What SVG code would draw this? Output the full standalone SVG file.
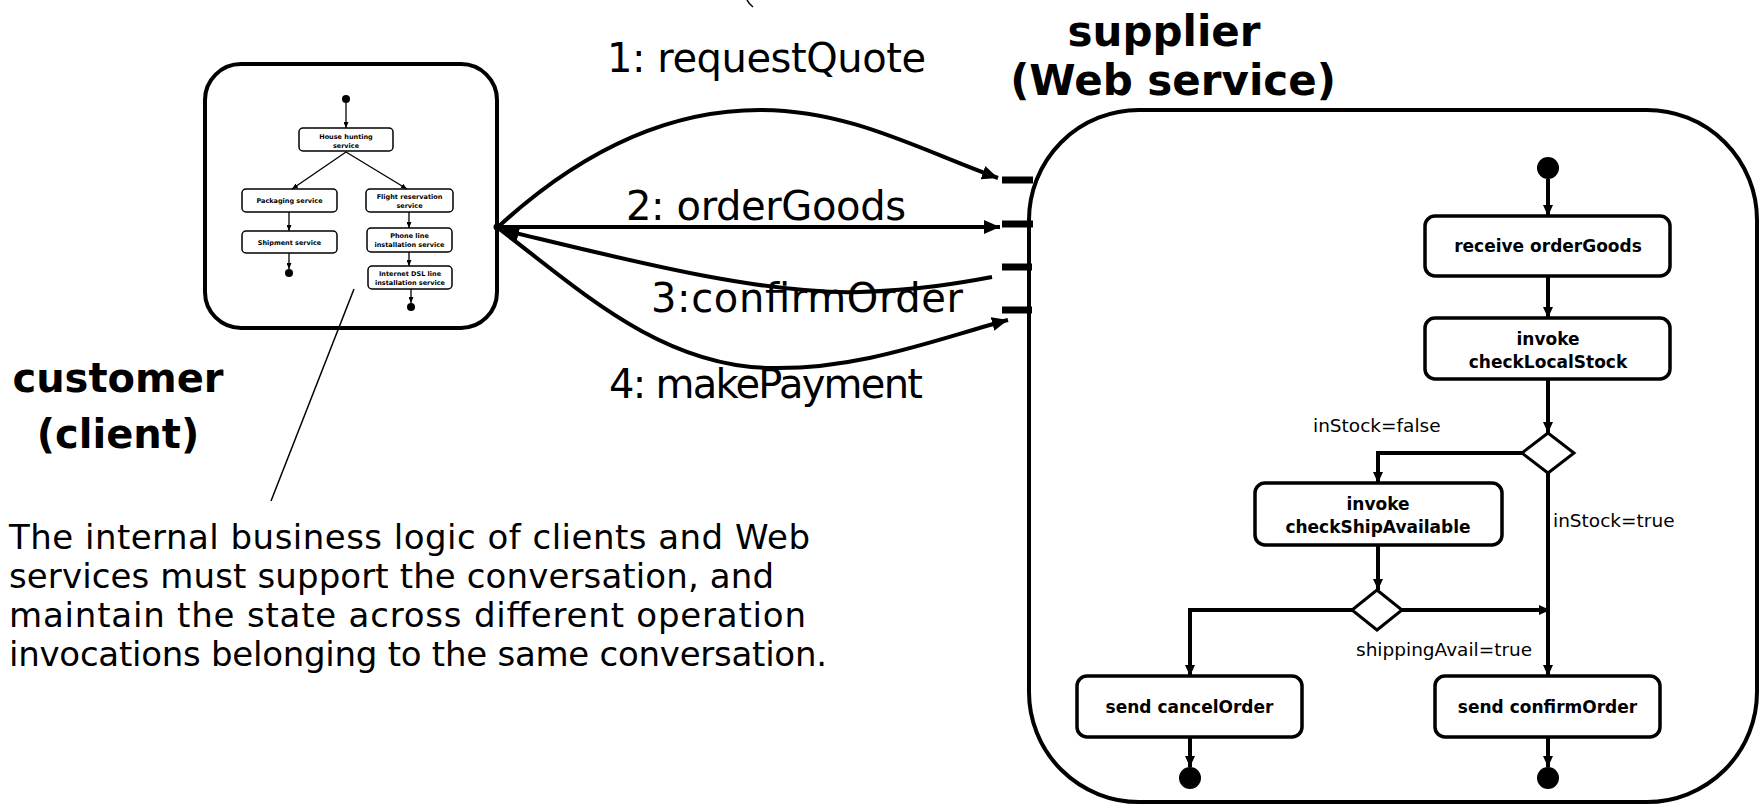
<svg xmlns="http://www.w3.org/2000/svg" width="1759" height="804" viewBox="0 0 1759 804">
<style>
.t{font-family:"DejaVu Sans","Liberation Sans",sans-serif;fill:#000}
.b{font-weight:bold}
.big{font-size:40px}
.title{font-size:42px;font-weight:bold}
.lab{font-size:18.5px}
.act{font-size:17px;font-weight:bold}
.mini{font-size:6.5px;font-weight:bold}
.para{font-size:34px}
.box{fill:#fff;stroke:#000;stroke-width:3.5}
.mbox{fill:#fff;stroke:#000;stroke-width:1.5}
.fl{fill:none;stroke:#000;stroke-width:4}
.mfl{fill:none;stroke:#000;stroke-width:1.3}
.conn{fill:none;stroke:#000;stroke-width:4}
.tick{stroke:#000;stroke-width:7}
</style>
<defs>
<marker id="ah" viewBox="0 0 16 14" refX="16" refY="7" markerWidth="16" markerHeight="14" markerUnits="userSpaceOnUse" orient="auto-start-reverse"><path d="M0,0 L16,7 L0,14 z" fill="#000"/></marker>
<marker id="sa" viewBox="0 0 11 10" refX="11" refY="5" markerWidth="11" markerHeight="10" markerUnits="userSpaceOnUse" orient="auto"><path d="M0,0 L11,5 L0,10 z" fill="#000"/></marker>
<marker id="ma" viewBox="0 0 6 5" refX="6" refY="2.5" markerWidth="6" markerHeight="5" markerUnits="userSpaceOnUse" orient="auto"><path d="M0,0 L6,2.5 L0,5 z" fill="#000"/></marker>
</defs>

<path d="M747,0 Q749,4 753,7" fill="none" stroke="#000" stroke-width="1.5"/>

<g id="customer">
<rect x="205" y="64" width="292" height="264" rx="36" fill="#fff" stroke="#000" stroke-width="4"/>
<text class="t b big" x="118" y="392" text-anchor="middle">customer</text>
<text class="t b big" x="118" y="448" text-anchor="middle">(client)</text>
<circle cx="346" cy="99" r="4"/>
<g id="c-house"><rect class="mbox" x="299" y="128" width="94" height="23" rx="4"/><text class="t mini" x="346" y="139" text-anchor="middle">House hunting</text><text class="t mini" x="346" y="147.5" text-anchor="middle">service</text></g>
<g id="c-pack"><rect class="mbox" x="242" y="189" width="95" height="23" rx="4"/><text class="t mini" x="289.5" y="203" text-anchor="middle">Packaging service</text></g>
<g id="c-flight"><rect class="mbox" x="366" y="189" width="87" height="23" rx="4"/><text class="t mini" x="409.5" y="199" text-anchor="middle">Flight reservation</text><text class="t mini" x="409.5" y="207.5" text-anchor="middle">service</text></g>
<g id="c-ship"><rect class="mbox" x="242" y="231" width="95" height="22" rx="4"/><text class="t mini" x="289.5" y="244.5" text-anchor="middle">Shipment service</text></g>
<g id="c-phone"><rect class="mbox" x="367" y="228" width="85" height="24" rx="4"/><text class="t mini" x="409.5" y="238" text-anchor="middle">Phone line</text><text class="t mini" x="409.5" y="247" text-anchor="middle">installation service</text></g>
<g id="c-dsl"><rect class="mbox" x="368" y="266" width="84" height="23" rx="4"/><text class="t mini" x="410" y="275.5" text-anchor="middle">Internet DSL line</text><text class="t mini" x="410" y="284.5" text-anchor="middle">installation service</text></g>
<circle cx="289" cy="273" r="4"/>
<circle cx="411" cy="307" r="4"/>
<g id="c-flows">
<path class="mfl" d="M346,103 L346,128" marker-end="url(#ma)"/>
<path class="mfl" d="M346,152 L292,189" marker-end="url(#ma)"/>
<path class="mfl" d="M346,152 L407,189" marker-end="url(#ma)"/>
<path class="mfl" d="M289,212 L289,231" marker-end="url(#ma)"/>
<path class="mfl" d="M289,253 L289,269" marker-end="url(#ma)"/>
<path class="mfl" d="M409,212 L409,228" marker-end="url(#ma)"/>
<path class="mfl" d="M409,252 L409,266" marker-end="url(#ma)"/>
<path class="mfl" d="M411,289 L411,303" marker-end="url(#ma)"/>
</g>
<circle cx="497" cy="227" r="3.5"/>
</g>

<g id="note">
<line x1="354" y1="289" x2="271" y2="501" stroke="#000" stroke-width="1.5"/>
<text class="t para" x="9" y="549" textLength="801">The internal business logic of clients and Web</text>
<text class="t para" x="9" y="588" textLength="765">services must support the conversation, and</text>
<text class="t para" x="9" y="627" textLength="797">maintain the state across different operation</text>
<text class="t para" x="9" y="666" textLength="818">invocations belonging to the same conversation.</text>
</g>

<g id="supplier">
<rect x="1029" y="110" width="728" height="692" rx="110" fill="#fff" stroke="#000" stroke-width="4"/>
<text class="t title" x="1164" y="46" text-anchor="middle">supplier</text>
<text class="t title" x="1173" y="95" text-anchor="middle">(Web service)</text>
<line class="tick" x1="1002" y1="180" x2="1033" y2="180"/>
<line class="tick" x1="1002" y1="224" x2="1033" y2="224"/>
<line class="tick" x1="1002" y1="267" x2="1032" y2="267"/>
<line class="tick" x1="1002" y1="310" x2="1032" y2="310"/>
<circle cx="1548" cy="168" r="11"/>
<g id="s-receive"><rect class="box" x="1425" y="216" width="245" height="60" rx="10"/><text class="t act" x="1548" y="252" text-anchor="middle">receive orderGoods</text></g>
<g id="s-local"><rect class="box" x="1425" y="318" width="245" height="61" rx="10"/><text class="t act" x="1548" y="345" text-anchor="middle">invoke</text><text class="t act" x="1548" y="368" text-anchor="middle">checkLocalStock</text></g>
<g id="s-dec1"><path d="M1548,433 L1574,453 L1548,473 L1522,453 Z" fill="#fff" stroke="#000" stroke-width="3"/></g>
<g id="s-ship"><rect class="box" x="1255" y="483" width="247" height="62" rx="10"/><text class="t act" x="1378" y="510" text-anchor="middle">invoke</text><text class="t act" x="1378" y="533" text-anchor="middle">checkShipAvailable</text></g>
<g id="s-dec2"><path d="M1377,590 L1402,610 L1377,630 L1352,610 Z" fill="#fff" stroke="#000" stroke-width="3"/></g>
<g id="s-cancel"><rect class="box" x="1077" y="676" width="225" height="61" rx="10"/><text class="t act" x="1189.5" y="713" text-anchor="middle">send cancelOrder</text></g>
<g id="s-confirm"><rect class="box" x="1435" y="676" width="225" height="61" rx="10"/><text class="t act" x="1547.5" y="713" text-anchor="middle">send confirmOrder</text></g>
<circle cx="1190" cy="778" r="11"/>
<circle cx="1548" cy="778" r="11"/>
<text class="t lab" x="1313" y="432">inStock=false</text>
<text class="t lab" x="1553" y="527">inStock=true</text>
<text class="t lab" x="1356" y="656">shippingAvail=true</text>
<g id="s-flows">
<path class="fl" d="M1548,179 L1548,216" marker-end="url(#sa)"/>
<path class="fl" d="M1548,276 L1548,318" marker-end="url(#sa)"/>
<path class="fl" d="M1548,379 L1548,433" marker-end="url(#sa)"/>
<path class="fl" d="M1522,453 L1378,453 L1378,483" marker-end="url(#sa)"/>
<path class="fl" d="M1548,473 L1548,676" marker-end="url(#sa)"/>
<path class="fl" d="M1378,545 L1378,590" marker-end="url(#sa)"/>
<path class="fl" d="M1402,610 L1550,610" marker-end="url(#sa)"/>
<path class="fl" d="M1352,610 L1190,610 L1190,676" marker-end="url(#sa)"/>
<path class="fl" d="M1190,737 L1190,767" marker-end="url(#sa)"/>
<path class="fl" d="M1548,737 L1548,767" marker-end="url(#sa)"/>
</g>
</g>

<g id="connectors">
<path class="conn" d="M498,227 C560,170 650,110 760,110 C850,110 920,150 998,178" marker-end="url(#ah)"/>
<path class="conn" d="M498,227 L1000,227" stroke-width="3.5" marker-end="url(#ah)"/>
<path class="conn" d="M503,230 C620,258 760,295 860,292 C920,290 960,283 992,277" stroke-width="5" marker-start="url(#ah)"/>
<path class="conn" d="M498,228 C580,290 660,366 770,368 C860,370 940,338 1008,320" marker-end="url(#ah)"/>
<text class="t big" x="607" y="72" textLength="319">1: requestQuote</text>
<text class="t big" x="626" y="220" textLength="280">2: orderGoods</text>
<text class="t big" x="651" y="312" textLength="312">3:confirmOrder</text>
<text class="t big" x="609" y="398" textLength="314">4: makePayment</text>
</g>
</svg>
